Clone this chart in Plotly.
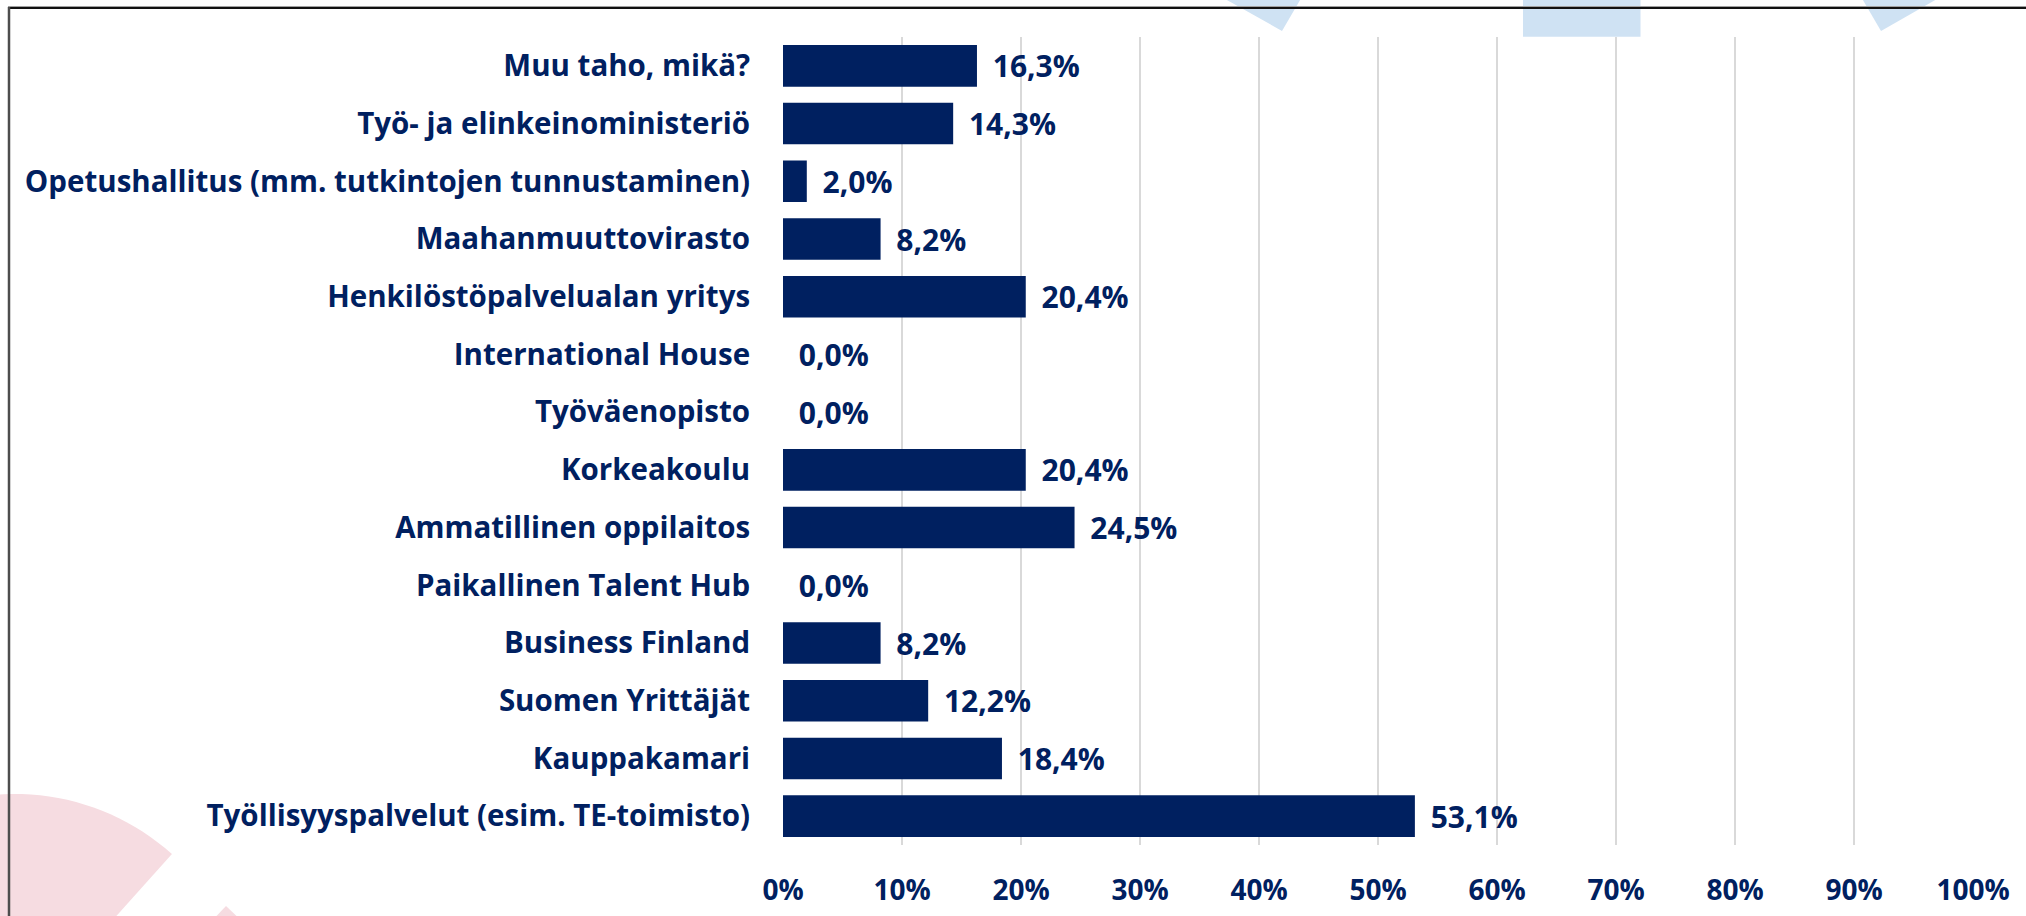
import numpy as np
import plotly.graph_objects as go

categories = [
    "Muu taho, mikä?",
    "Työ- ja elinkeinoministeriö",
    "Opetushallitus (mm. tutkintojen tunnustaminen)",
    "Maahanmuuttovirasto",
    "Henkilöstöpalvelualan yritys",
    "International House",
    "Työväenopisto",
    "Korkeakoulu",
    "Ammatillinen oppilaitos",
    "Paikallinen Talent Hub",
    "Business Finland",
    "Suomen Yrittäjät",
    "Kauppakamari",
    "Työllisyyspalvelut (esim. TE-toimisto)",
]
values = [16.3, 14.3, 2.0, 8.2, 20.4, 0.0, 0.0, 20.4, 24.5, 0.0, 8.2, 12.2, 18.4, 53.1]
x_ticks = [0, 10, 20, 30, 40, 50, 60, 70, 80, 90, 100]

NAVY = "#002060"
FONT = "Open Sans"

W, H = 2026, 916
ML, MR, MT, MB = 783, 53, 37, 71
PW, PH = W - ML - MR, H - MT - MB


def px(x):
    return (x - ML) / PW


def py(y):
    return (H - MB - y) / PH


def poly_path(pts):
    s = "M " + " L ".join(f"{px(a):.5f},{py(b):.5f}" for a, b in pts) + " Z"
    return s


fig = go.Figure()
fig.add_trace(go.Bar(
    x=values, y=categories, orientation="h",
    marker=dict(color=NAVY, line=dict(width=0)),
    texttemplate="\u00a0\u2009%{x:.1f}%", textposition="outside",
    textfont=dict(family=FONT, size=30, color=NAVY, weight="bold"),
    cliponaxis=False, hoverinfo="skip",
))

shapes = []
BLUE = "#cfe2f3"
PINK = "#f6dce1"
# decorative background shapes
shapes.append(dict(type="path", xref="paper", yref="paper", layer="below",
                   path=poly_path([(1218, -5), (1303, -5), (1282, 31)]),
                   fillcolor=BLUE, line=dict(width=0)))
shapes.append(dict(type="path", xref="paper", yref="paper", layer="below",
                   path=poly_path([(1523, -5), (1640.5, -5), (1640.5, 36.7), (1523, 36.7)]),
                   fillcolor=BLUE, line=dict(width=0)))
shapes.append(dict(type="path", xref="paper", yref="paper", layer="below",
                   path=poly_path([(1860, -5), (1944, -5), (1881, 31)]),
                   fillcolor=BLUE, line=dict(width=0)))
cx, cy, R = 15, 1029, 235
ang = np.linspace(np.radians(48.1), np.radians(180), 60)
arc = [(cx + R * np.cos(a), cy - R * np.sin(a)) for a in ang]
shapes.append(dict(type="path", xref="paper", yref="paper", layer="below",
                   path=poly_path([(cx, cy)] + arc),
                   fillcolor=PINK, line=dict(width=0)))
shapes.append(dict(type="path", xref="paper", yref="paper", layer="below",
                   path=poly_path([(226, 906), (208, 925), (246, 925)]),
                   fillcolor=PINK, line=dict(width=0)))
# frame
shapes.append(dict(type="line", xref="paper", yref="paper", layer="below",
                   x0=px(8), x1=px(2040), y0=py(6.5), y1=py(6.5),
                   line=dict(color="#a0a0a0", width=1)))
shapes.append(dict(type="line", xref="paper", yref="paper", layer="below",
                   x0=px(8), x1=px(2040), y0=py(8), y1=py(8),
                   line=dict(color="#111111", width=2)))
shapes.append(dict(type="line", xref="paper", yref="paper", layer="below",
                   x0=px(9), x1=px(9), y0=py(7), y1=py(930),
                   line=dict(color="#4d4d4d", width=2.5)))

fig.update_layout(
    width=W, height=H,
    margin=dict(l=ML, r=MR, t=MT, b=MB, pad=0, autoexpand=False),
    paper_bgcolor="white", plot_bgcolor="rgba(0,0,0,0)",
    separators=", ",
    bargap=0.28,
    showlegend=False,
    shapes=shapes,
    font=dict(family=FONT, color=NAVY),
    xaxis=dict(
        range=[0, 100], tickvals=x_ticks, ticktext=[f"{v}%" for v in x_ticks],
        showgrid=True, gridcolor="#d9d9d9", gridwidth=2, zeroline=False,
        showline=False, ticks="outside", ticklen=20, tickcolor="rgba(0,0,0,0)",
        tickfont=dict(family=FONT, size=28, color=NAVY, weight="bold"),
        fixedrange=True, automargin=False,
    ),
    yaxis=dict(
        autorange="reversed", showgrid=False, zeroline=False, showline=False,
        ticks="outside", ticklen=26, tickcolor="rgba(0,0,0,0)",
        tickfont=dict(family=FONT, size=29.5, color=NAVY, weight="bold"),
        fixedrange=True, automargin=False,
    ),
)

fig.write_html(
    "out.html",
    config={"displayModeBar": False},
    post_script="document.body.style.margin='0';document.body.style.overflow='hidden';",
)
